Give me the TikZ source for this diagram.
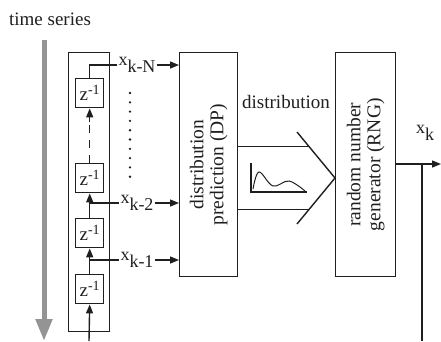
\documentclass[tikz,border=0pt]{standalone}
\usepackage{fontspec}
\setmainfont{Liberation Serif}
\usetikzlibrary{arrows.meta}
\newcommand{\xlab}[1]{{\fontsize{18}{18}\selectfont x}\raisebox{-7pt}{\fontsize{18}{18}\selectfont #1}}
\newcommand{\zinv}{{\fontsize{19}{19}\selectfont z}\raisebox{6pt}{\fontsize{14}{14}\selectfont -1}}
\begin{document}
\begin{tikzpicture}[x=1pt,y=-1pt,
  ln/.style={line width=1.4pt, draw=black!88},
  arr/.style={ln, -{Triangle[length=9pt,width=7pt]}},
  zbox/.style={ln, minimum width=28pt, minimum height=29pt, inner sep=0pt, anchor=north west, text=black!88},
  bigbox/.style={ln, minimum width=#1, minimum height=224pt, inner sep=0pt, anchor=north west},
  rottext/.style={rotate=90, align=center, text=black!88, font=\fontsize{19.5}{20}\selectfont},
  lab/.style={inner sep=1pt, text=black!88},
  txt/.style={inner sep=0pt, text=black!88, font=\fontsize{19}{19}\selectfont}
]
\useasboundingbox (0,0) rectangle (441,341);

% time axis
\node[txt] (ts) at (50,19) {time series};
\coordinate (tstart) at (44,40);
\coordinate (tend) at (44,341);
\draw[line width=5pt, black!42, -{Triangle[width=16pt,length=22pt]}] (tstart) -- (tend);

% delay line
\node[ln, minimum width=41pt, minimum height=279pt, inner sep=0pt, anchor=north west] (delay) at (68,52) {};
\node[zbox] (zN) at (75,78) {\zinv};
\node[zbox] (zA) at (75,163) {\zinv};
\node[zbox] (zB) at (75,218) {\zinv};
\node[zbox] (zC) at (75,274) {\zinv};

\coordinate (in) at (89,341);
\draw[arr] (in) -- (zC.south);
\draw[arr] (zC.north) -- (zB.south);
\draw[arr] (zB.north) -- (zA.south);
\draw[ln, dash pattern=on 8pt off 7pt] (zA.north) -- (zN.south);
\draw[arr] ([yshift=-14pt]zN.south) -- (zN.south);

% boxes
\node[bigbox=58pt] (dp) at (179,52) {};
\node[rottext] at (dp.center) {distribution\\prediction (DP)};
\node[bigbox=60pt] (rng) at (335,52) {};
\node[rottext] at (rng.center) {random number\\generator (RNG)};

% taps
\node[lab] (xN) at (137,65) {\xlab{k-N}};
\node[lab] (x2) at (137,203) {\xlab{k-2}};
\node[lab] (x1) at (137,260) {\xlab{k-1}};
\coordinate (t2) at (89,203);
\coordinate (t1) at (89,260);
\draw[ln] (zN.north) |- (xN.west);
\draw[ln] (t2) -- (x2.west);
\draw[ln] (t1) -- (x1.west);
\draw[arr] (xN.east) -- (xN.east -| dp.west);
\draw[arr] (x2.east) -- (x2.east -| dp.west);
\draw[arr] (x1.east) -- (x1.east -| dp.west);

% dots
\foreach \i in {0,...,9} \fill[black!88] (130,93+9.3*\i) circle (1.3pt);

% hollow arrow
\node[txt] (dist) at (286,102) {distribution};
\coordinate (tip) at (rng.west |- 0,178);
\coordinate (ua) at (297,132);
\coordinate (la) at (297,224);
\draw[ln] (dp.east |- 0,146.5) -- (308.5,146.5);
\draw[ln] (dp.east |- 0,209.5) -- (309,209.5);
\draw[ln] (ua) -- (tip) -- (la);

% small density plot
\draw[ln, line width=1.1pt] (251,163) -- (251,192) -- (307,192);
\draw[ln, line width=1pt] plot[smooth, tension=0.6] coordinates {(253,189) (259,172) (273,186) (289,181) (305,191)};

% output
\coordinate (outend) at (441,164);
\coordinate (j) at (422,164);
\coordinate (fb) at (422,341);
\draw[arr] (rng.east |- outend) -- (outend);
\draw[ln, line width=1.1pt] (j) -- (fb);
\node[lab] (xk) at (425,133) {\xlab{k}};
\end{tikzpicture}
\end{document}
